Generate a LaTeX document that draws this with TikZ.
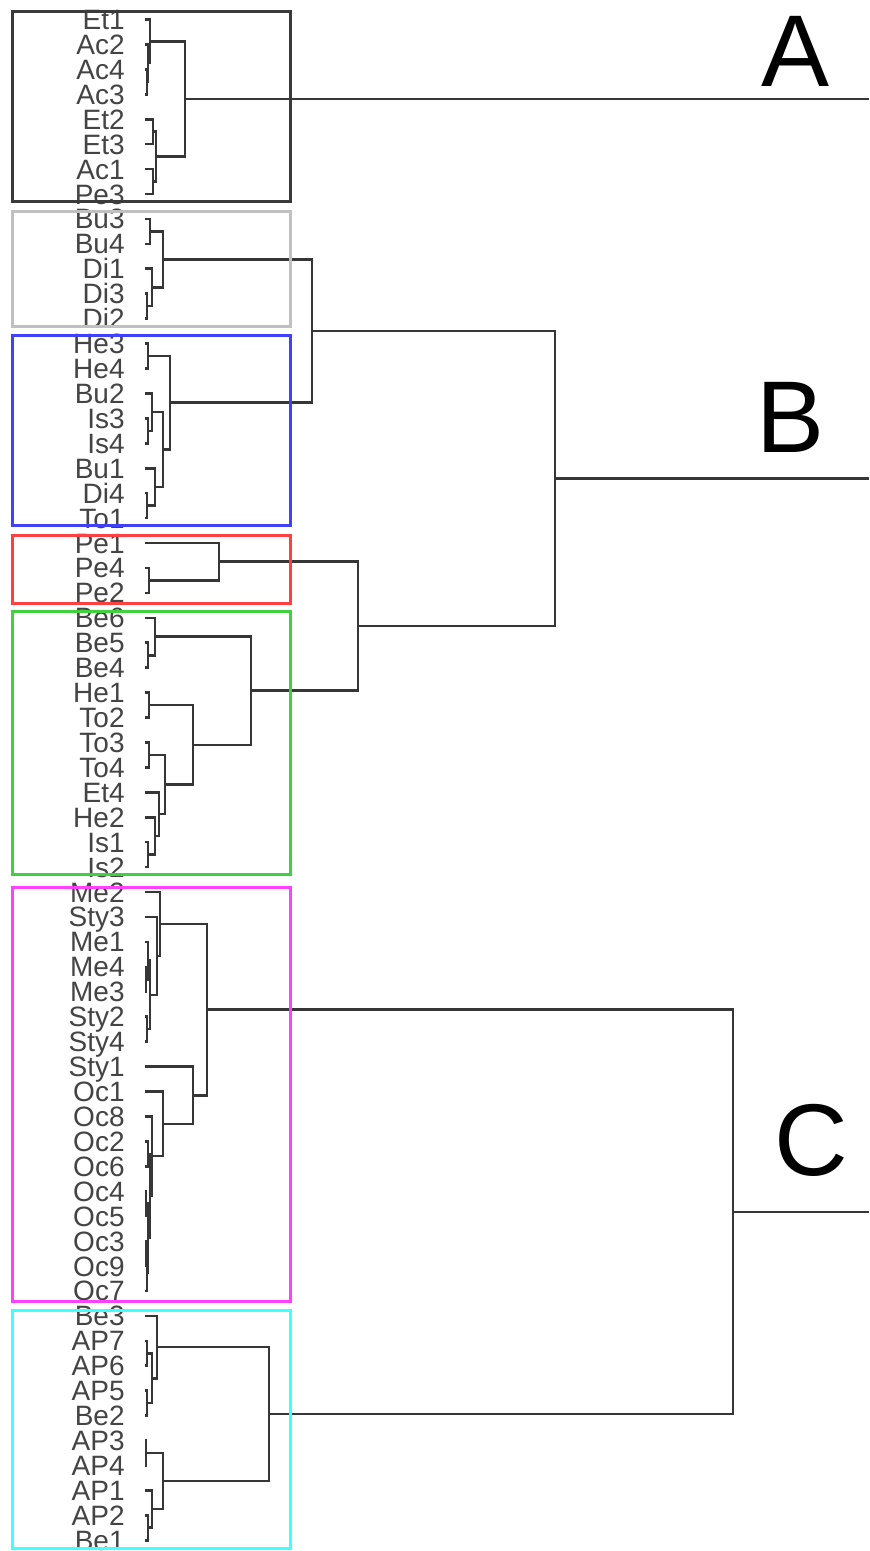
\documentclass[tikz,border=0pt]{standalone}
\usepackage{fontspec}
\setmainfont{Liberation Sans}
\usetikzlibrary{calc}
\definecolor{treec}{HTML}{363636}
\definecolor{labc}{HTML}{444444}
\definecolor{boxA}{HTML}{3A3A3A}
\definecolor{boxG}{HTML}{C0C0C0}
\definecolor{boxB}{HTML}{4040FF}
\definecolor{boxR}{HTML}{FF4040}
\definecolor{boxE}{HTML}{40D040}
\definecolor{boxM}{HTML}{FF40FF}
\definecolor{boxC}{HTML}{40FFFF}
\newcommand\mrg[4]{%
  \path ($(#3)!0.5!(#4)$) coordinate (tmp);
  \coordinate (#1) at (tmp -| #2,0);
  \draw[tree] (#3) -| (#1) |- (#4);}
\begin{document}
\begin{tikzpicture}[x=0.5pt,y=-0.5pt,
  tree/.style={draw=treec,line width=1.3pt},
  lbl/.style={anchor=base east,inner sep=0pt,text=labc,font=\fontsize{14}{14}\selectfont},
  big/.style={anchor=base,inner sep=0pt,text=black,font=\fontsize{51}{51}\selectfont},
  boxline/.style={line width=1.5pt}]
\useasboundingbox (0,0) rectangle (869,1551);
\fill[white] (0,0) rectangle (869,1551);
% leaves
\foreach \n [count=\i from 0] in {Et1,Ac2,Ac4,Ac3,Et2,Et3,Ac1,Pe3,
  Bu3,Bu4,Di1,Di3,Di2,
  He3,He4,Bu2,Is3,Is4,Bu1,Di4,To1,
  Pe1,Pe4,Pe2,
  Be6,Be5,Be4,He1,To2,To3,To4,Et4,He2,Is1,Is2,
  Me2,Sty3,Me1,Me4,Me3,Sty2,Sty4,Sty1,Oc1,Oc8,Oc2,Oc6,Oc4,Oc5,Oc3,Oc9,Oc7,
  Be3,AP7,AP6,AP5,Be2,AP3,AP4,AP1,AP2,Be1}{
  \node[lbl] (\n) at (125,{19.5+24.93*\i+10}) {\n};
  \coordinate (t\n) at (145,{19.5+24.93*\i});
}
% group A
\mrg{a1}{147}{tAc4}{tAc3}
\mrg{a2}{148}{tAc2}{a1}
\mrg{a3}{150}{tEt1}{a2}
\mrg{a4}{153}{tEt2}{tEt3}
\mrg{a5}{153}{tAc1}{tPe3}
\mrg{a6}{156}{a4}{a5}
\mrg{A}{185}{a3}{a6}
% gray
\mrg{g1}{150}{tBu3}{tBu4}
\mrg{g2}{147}{tDi3}{tDi2}
\mrg{g3}{152}{tDi1}{g2}
\mrg{g4}{163}{g1}{g3}
% blue
\mrg{b1}{148}{tHe3}{tHe4}
\mrg{b2}{148}{tIs3}{tIs4}
\mrg{b3}{152}{tBu2}{b2}
\mrg{b4}{147}{tDi4}{tTo1}
\mrg{b5}{155}{tBu1}{b4}
\mrg{b6}{163}{b3}{b5}
\mrg{b7}{170}{b1}{b6}
\mrg{gb}{312}{g4}{b7}
% red
\mrg{r1}{149}{tPe4}{tPe2}
\mrg{r2}{219}{tPe1}{r1}
% green
\mrg{e1}{148}{tBe5}{tBe4}
\mrg{e2}{155}{tBe6}{e1}
\mrg{e3}{149}{tHe1}{tTo2}
\mrg{e4}{149}{tTo3}{tTo4}
\mrg{e5}{148}{tIs1}{tIs2}
\mrg{e6}{155}{tHe2}{e5}
\mrg{e7}{159}{tEt4}{e6}
\mrg{e8}{165}{e4}{e7}
\mrg{e9}{193}{e3}{e8}
\mrg{e10}{251}{e2}{e9}
\mrg{rg}{358}{r2}{e10}
\mrg{B}{555}{gb}{rg}
% magenta
\mrg{m1}{146}{tMe4}{tMe3}
\mrg{m2}{148}{tMe1}{m1}
\mrg{m3}{147}{tSty2}{tSty4}
\mrg{m4}{150}{m2}{m3}
\mrg{m5}{157}{tSty3}{m4}
\mrg{m6}{160}{tMe2}{m5}
\mrg{o1}{148}{tOc2}{tOc6}
\mrg{o2}{146}{tOc4}{tOc5}
\mrg{o3}{146}{tOc3}{tOc9}
\mrg{o4}{147}{o3}{tOc7}
\mrg{o5}{148}{o2}{o4}
\mrg{o6}{150}{o1}{o5}
\mrg{o7}{152}{tOc8}{o6}
\mrg{o8}{163}{tOc1}{o7}
\mrg{o9}{193}{tSty1}{o8}
\mrg{M}{207}{m6}{o9}
% cyan
\mrg{c1}{147}{tAP7}{tAP6}
\mrg{c2}{147}{tAP5}{tBe2}
\mrg{c3}{152}{c1}{c2}
\mrg{c4}{157}{tBe3}{c3}
\mrg{c5}{146}{tAP3}{tAP4}
\mrg{c6}{148}{tAP2}{tBe1}
\mrg{c7}{152}{tAP1}{c6}
\mrg{c8}{163}{c5}{c7}
\mrg{c9}{269}{c4}{c8}
\mrg{C}{733}{M}{c9}
% root lines
\coordinate (Aend) at (A -| 869,0);
\coordinate (Bend) at (B -| 869,0);
\coordinate (Cend) at (C -| 869,0);
\draw[tree] (A) -- (Aend);
\draw[tree] (B) -- (Bend);
\draw[tree] (C) -- (Cend);
% big letters
\node[big] (LA) at (796,87) {A};
\node[big] (LB) at (791,452) {B};
\node[big] (LC) at (811,1175) {C};
% boxes
\draw[boxline,draw=boxA] (12,12) rectangle (290,202);
\draw[boxline,draw=boxG] (12,212) rectangle (290,327);
\draw[boxline,draw=boxB] (12,336) rectangle (290,525);
\draw[boxline,draw=boxR] (12,535) rectangle (290,603);
\draw[boxline,draw=boxE] (12,611) rectangle (290,874);
\draw[boxline,draw=boxM] (12,887) rectangle (290,1301);
\draw[boxline,draw=boxC] (12,1310) rectangle (290,1548);
\end{tikzpicture}
\end{document}
